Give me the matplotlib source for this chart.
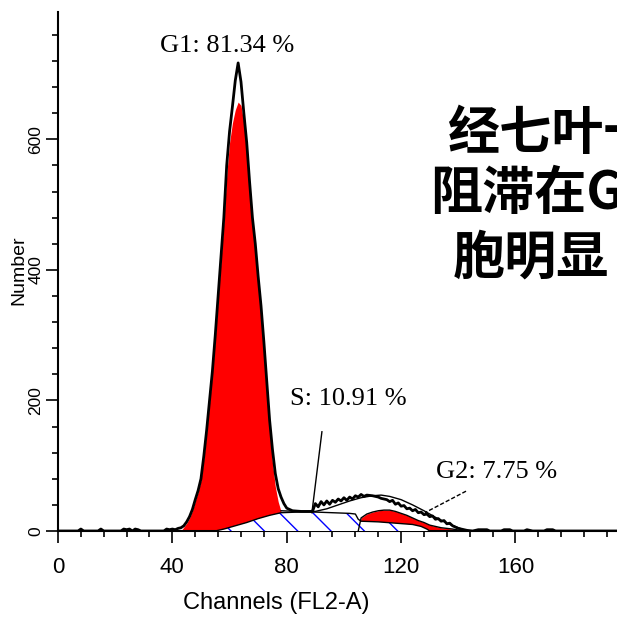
import matplotlib
matplotlib.use("Agg")
import matplotlib.pyplot as plt
from matplotlib.ticker import MultipleLocator
import numpy as np

# raw DNA histogram (channel, number of events)
hist_ch = [0, 7, 8, 9, 14, 15, 16, 22, 23, 24, 25, 26, 27, 28, 29, 37, 38, 39, 40, 41, 42,
           43, 44, 45, 46, 47, 48, 49, 50, 51, 52, 53, 54, 55, 56, 57, 58, 59, 60, 61, 62,
           63, 64, 65, 66, 67, 68, 69, 70, 71, 72, 73, 74, 75, 76, 77, 78, 79, 80, 82, 85,
           89, 90, 91, 92, 93, 94, 95, 96, 97, 98, 99, 100, 101, 102, 103, 104, 105, 106,
           107, 108, 110, 112, 113, 115, 116, 117, 118, 119, 120, 121, 122, 123, 124, 125,
           126, 127, 128, 129, 130, 131, 132, 133, 134, 135, 136, 137, 138, 139, 140, 141,
           142, 143, 145, 147, 150, 151, 155, 156, 158, 159, 163, 164, 166, 170, 171, 173,
           174, 196]
hist_n = [0, 0, 3, 0, 0, 3, 0, 0, 3, 2, 3, 0, 3, 2, 0, 0, 3, 2, 3, 2, 4,
          5, 8, 14, 22, 33, 48, 62, 80, 115, 155, 200, 245, 300, 360, 420, 480, 560, 612, 650, 690,
          717, 688, 640, 595, 535, 480, 440, 390, 345, 290, 230, 170, 125, 88, 65, 52, 42, 35, 31, 30,
          30, 42, 37, 45, 40, 46, 41, 47, 44, 49, 46, 51, 47, 52, 49, 54, 52, 56,
          53, 55, 54, 52, 50, 48, 45, 47, 41, 43, 38, 39, 34, 35, 31, 33,
          28, 29, 25, 26, 22, 23, 18, 19, 15, 16, 11, 12, 8, 6, 4, 3,
          2, 1, 0, 2, 2, 0, 0, 2, 2, 0, 0, 2, 0, 0, 2, 2,
          0, 0]

# G1 model peak (top edge)
g1_ch = [43, 44, 45, 46, 47, 48, 49, 50, 51, 52, 53, 54, 55, 56, 57, 58, 59, 60, 61, 62, 63,
         64, 65, 66, 67, 68, 69, 70, 71, 72, 73, 74, 75, 76, 77, 78, 79]
g1_top = [0, 6, 12, 20, 31, 46, 60, 78, 112, 152, 197, 242, 297, 356, 415, 475, 545, 595, 625, 645, 657,
          652, 625, 585, 528, 474, 432, 380, 332, 276, 215, 155, 105, 68, 45, 30, 0]

# S phase model
s_ch = [55, 58, 62, 66, 70, 74, 78, 84, 90, 96, 102, 104, 105, 106, 112, 118, 124, 127, 129, 130]
s_top = [0, 3, 8, 13, 19, 24, 28, 29, 29, 28, 27, 26, 18, 15, 14, 12, 10, 7, 3, 0]

# G2 model peak
g2_ch = [105, 106, 108, 110, 112, 114, 116, 118, 120, 122, 124, 126, 128, 130, 132, 134, 136, 138, 140, 142]
g2_top = [0, 20, 26, 29, 31, 32, 32, 30, 27, 24, 20, 16, 13, 9, 7, 5, 4, 3, 1.5, 0]

# sum of fitted components
fit_ch = [78, 84, 90, 94, 98, 102, 106, 110, 113, 116, 120, 124, 128, 132, 136, 140, 143]
fit_total = [31, 30, 30, 34, 40, 46, 51, 54, 55, 53, 48, 40, 31, 21, 12, 5, 0]

x_major = [0, 40, 80, 120, 160]
y_major = [0, 200, 400, 600]

plt.rcParams['hatch.color'] = 'blue'
plt.rcParams['hatch.linewidth'] = 1.0

fig = plt.figure(figsize=(6.17, 6.22), dpi=100)
ax = fig.add_axes([58/617, 91/622, 559/617, 519/622])

ax.fill_between(g1_ch, 0, g1_top, color='red', lw=0, zorder=2)
ax.fill_between(g2_ch, 0, g2_top, color='red', lw=0, zorder=2)
ax.fill_between(s_ch, 0, s_top, facecolor='white', edgecolor='blue', hatch='\\', lw=0, zorder=3)
ax.plot(s_ch, s_top, color='black', lw=1, zorder=4)
ax.plot(g2_ch, g2_top, color='black', lw=1, zorder=4)
ax.plot(fit_ch, fit_total, color='black', lw=1, zorder=4)
ax.plot(hist_ch, hist_n, color='black', lw=2, zorder=5)

ax.set_xlim(0, 195.5)
ax.set_ylim(0, 795)
ax.set_xticks(x_major)
ax.set_yticks(y_major)
ax.xaxis.set_minor_locator(MultipleLocator(8))
ax.yaxis.set_minor_locator(MultipleLocator(40))
for s in ['top', 'right']:
    ax.spines[s].set_visible(False)
for s in ['left', 'bottom']:
    ax.spines[s].set_linewidth(1.5)
ax.tick_params(which='major', direction='out', length=8.5, width=1.2)
ax.tick_params(which='minor', direction='out', length=4.3, width=1.2)
ax.tick_params(axis='x', which='major', pad=10, labelsize=16)
ax.tick_params(axis='y', which='major', pad=2, labelsize=12.5, labelrotation=90)
for lab in ax.get_xticklabels() + ax.get_yticklabels():
    lab.set_fontfamily('Liberation Sans')
for lab in ax.get_yticklabels():
    lab.set_verticalalignment('center')

ax.set_xlabel("Channels (FL2-A)", fontsize=17, family='Liberation Sans')
ax.xaxis.set_label_coords(0.39, -0.118)
ax.set_ylabel("Number", fontsize=14, family='Liberation Sans')
ax.yaxis.set_label_coords(-0.054, 0.503)

ser = dict(family='Liberation Serif', fontsize=19, ha='center', va='center')
ax.text(59.1, 743, "G1: 81.34 %", **ser)
ax.text(101.7, 202, "S: 10.91 %", **ser)
ax.text(153.5, 90, "G2: 7.75 %", **ser)
ax.plot([92.3, 88.8], [152, 28], color='black', lw=1, zorder=6)
ax.plot([142.7, 128.3], [61, 28], color='black', lw=1, ls=(0, (3, 1.5)), zorder=6)

# overlay caption, cut by the right edge as in the source image
cjk = dict(family=['Noto Sans CJK SC', 'DejaVu Sans'], fontsize=37.5, weight='bold',
           ha='left', va='center')
fig.text(447/617, 1 - 133/622, "经七叶一", **cjk)
fig.text(430/617, 1 - 194/622, "阻滞在G", **cjk)
fig.text(453/617, 1 - 258/622, "胞明显", **cjk)

fig.savefig("out.png", dpi=100)
